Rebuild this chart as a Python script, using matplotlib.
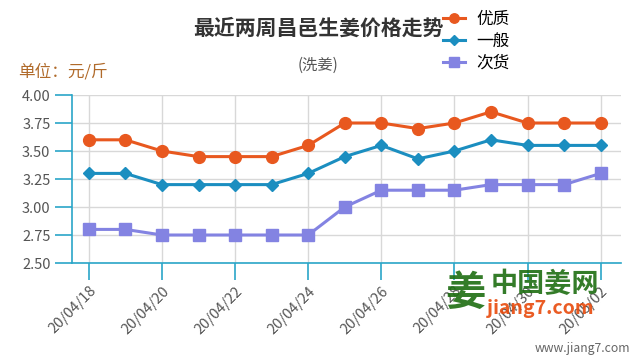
import matplotlib
matplotlib.use('Agg')
import matplotlib.pyplot as plt
import numpy as np

plt.rcParams['font.family'] = ['Noto Sans CJK SC', 'DejaVu Sans']

dates = ['20/04/18', '20/04/19', '20/04/20', '20/04/21', '20/04/22', '20/04/23', '20/04/24',
         '20/04/25', '20/04/26', '20/04/27', '20/04/28', '20/04/29', '20/04/30', '20/05/01', '20/05/02']
youzhi = [3.60, 3.60, 3.50, 3.45, 3.45, 3.45, 3.55, 3.75, 3.75, 3.70, 3.75, 3.85, 3.75, 3.75, 3.75]
yiban = [3.30, 3.30, 3.20, 3.20, 3.20, 3.20, 3.30, 3.45, 3.55, 3.43, 3.50, 3.60, 3.55, 3.55, 3.55]
cihuo = [2.80, 2.80, 2.75, 2.75, 2.75, 2.75, 2.75, 3.00, 3.15, 3.15, 3.15, 3.20, 3.20, 3.20, 3.30]
series_names = ['优质', '一般', '次货']
yticks = [2.50, 2.75, 3.00, 3.25, 3.50, 3.75, 4.00]

axis_c = '#2aa6c8'
x = np.arange(len(dates))

fig = plt.figure(figsize=(6.4, 3.6), dpi=100)
ax = fig.add_axes([0.1125, 0.2694, 0.8575, 0.4667])

ax.plot(x, youzhi, color='#e8581f', lw=2.2, marker='o', ms=8.5, label=series_names[0], zorder=3)
ax.plot(x, yiban, color='#1b8ec0', lw=2.2, marker='D', ms=6, label=series_names[1], zorder=3)
ax.plot(x, cihuo, color='#8383e2', lw=2.2, marker='s', ms=8.5, label=series_names[2], zorder=3)

ax.set_xlim(-0.46, 14.55)
ax.set_ylim(2.5, 4.0)
ax.set_yticks(yticks)
ax.set_yticklabels(['%.2f' % v for v in yticks])
ax.set_xticks(x[::2])
ax.set_xticklabels(dates[::2], rotation=45, ha='right', rotation_mode='anchor')
ax.grid(True, color='#d8d8d8', lw=1)
ax.set_axisbelow(True)
for s in ['top', 'right']:
    ax.spines[s].set_visible(False)
for s in ['left', 'bottom']:
    ax.spines[s].set_color(axis_c)
    ax.spines[s].set_linewidth(1.2)
ax.tick_params(axis='both', colors=axis_c, length=12, width=1.2, labelcolor='#555555', labelsize=10.5)
ax.tick_params(axis='x', pad=3)

fig.text(0.497, 0.922, '最近两周昌邑生姜价格走势', ha='center', va='center', fontsize=15,
         fontweight='bold', color='#333333')
fig.text(0.497, 0.818, '(洗姜)', ha='center', va='center', fontsize=11, color='#555555')
fig.text(0.028, 0.80, '单位：元/斤', ha='left', va='center', fontsize=12, color='#b06a2a')

leg = fig.legend(loc='upper left', bbox_to_anchor=(0.692, 0.97), frameon=False, fontsize=12,
                 handlelength=1.3, handletextpad=0.7, labelspacing=0.3,
                 borderpad=0, borderaxespad=0, markerscale=0.8)

# watermark
fig.text(0.727, 0.186, '姜', ha='center', va='center', fontsize=29, color='#1e6e12',
         fontweight='bold', alpha=0.9)
fig.text(0.766, 0.21, '中国姜网', ha='left', va='center', fontsize=19.5, color='#1e6e12',
         fontweight='bold', alpha=0.9)
fig.text(0.761, 0.144, 'jiang7.com', ha='left', va='center', fontsize=14, color='#e84a0c',
         fontweight='bold', style='italic', alpha=0.9)
fig.text(0.985, 0.033, 'www.jiang7.com', ha='right', va='center', fontsize=8.8, color='#666666')

fig.savefig('out.png', dpi=100)
